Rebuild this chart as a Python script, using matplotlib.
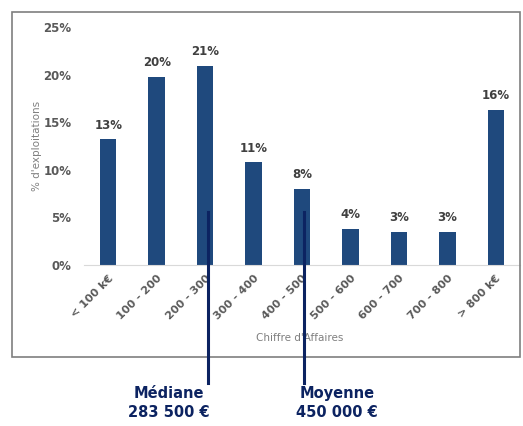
import matplotlib
matplotlib.use("Agg")
import matplotlib.pyplot as plt
from matplotlib.patches import Rectangle
from matplotlib.lines import Line2D
import matplotlib.transforms as mtransforms

categories = ["< 100 k€", "100 - 200", "200 - 300", "300 - 400", "400 - 500",
              "500 - 600", "600 - 700", "700 - 800", "> 800 k€"]
values = [13.2, 19.8, 20.9, 10.8, 8.0, 3.8, 3.5, 3.5, 16.3]
labels = ["13%", "20%", "21%", "11%", "8%", "4%", "3%", "3%", "16%"]
yticks = [0, 5, 10, 15, 20, 25]
median_pos = 2.06
mean_pos = 4.04
median_text = "Médiane\n283 500 €"
mean_text = "Moyenne\n450 000 €"

bar_color = "#1f497d"
navy = "#0c2361"
tick_color = "#595959"

fig = plt.figure(figsize=(5.23, 4.26), dpi=100)
fig.patches.append(Rectangle((12/523, 1-357/426), (520-12)/523, (357-12)/426,
                             transform=fig.transFigure, fill=False,
                             edgecolor="#7f7f7f", linewidth=1.2))
ax = fig.add_axes([84/523, 1-265/426, (520-84)/523, (265-27)/426])
x = list(range(len(categories)))
ax.bar(x, values, width=0.34, color=bar_color, zorder=2)
ax.set_xlim(-0.5, len(categories)-0.5)
ax.set_ylim(0, 25)
ax.set_yticks(yticks)
ax.set_yticklabels([f"{v}%" for v in yticks], fontweight="bold", color=tick_color, fontsize=8.5)
ax.set_xticks(x)
ax.set_xticklabels(categories, rotation=45, ha="right", rotation_mode="anchor",
                   fontweight="bold", color=tick_color, fontsize=8)
ax.tick_params(axis="y", length=0, pad=9)
ax.tick_params(axis="x", length=0, pad=6)
for s in ["top", "right", "left"]:
    ax.spines[s].set_visible(False)
ax.spines["bottom"].set_color("#d9d9d9")
for xi, v, lab in zip(x, values, labels):
    ax.text(xi, v + 0.8, lab, ha="center", va="bottom", fontweight="bold",
            color="#404040", fontsize=8.5)
ax.set_ylabel("% d'exploitations", color="#7f7f7f", fontsize=7.5, labelpad=1)
fig.text(300/523, 1-338/426, "Chiffre d'Affaires", ha="center", va="center",
         color="#7f7f7f", fontsize=7.5)

trans = mtransforms.blended_transform_factory(ax.transData, fig.transFigure)
for pos, txt, ha, dx in [(median_pos, median_text, "right", 2), (mean_pos, mean_text, "left", -8)]:
    fig.add_artist(Line2D([pos, pos], [1-212/426, 1-383/426], transform=trans,
                          color=navy, linewidth=2.2, zorder=5))
    t = trans + mtransforms.ScaledTranslation(dx/100, 0, fig.dpi_scale_trans)
    fig.text(pos, 1-386/426, txt, transform=t, ha=ha, multialignment="center",
             va="top", color=navy, fontweight="bold", fontsize=10.5, linespacing=1.3)

fig.savefig("out.png", dpi=100)
